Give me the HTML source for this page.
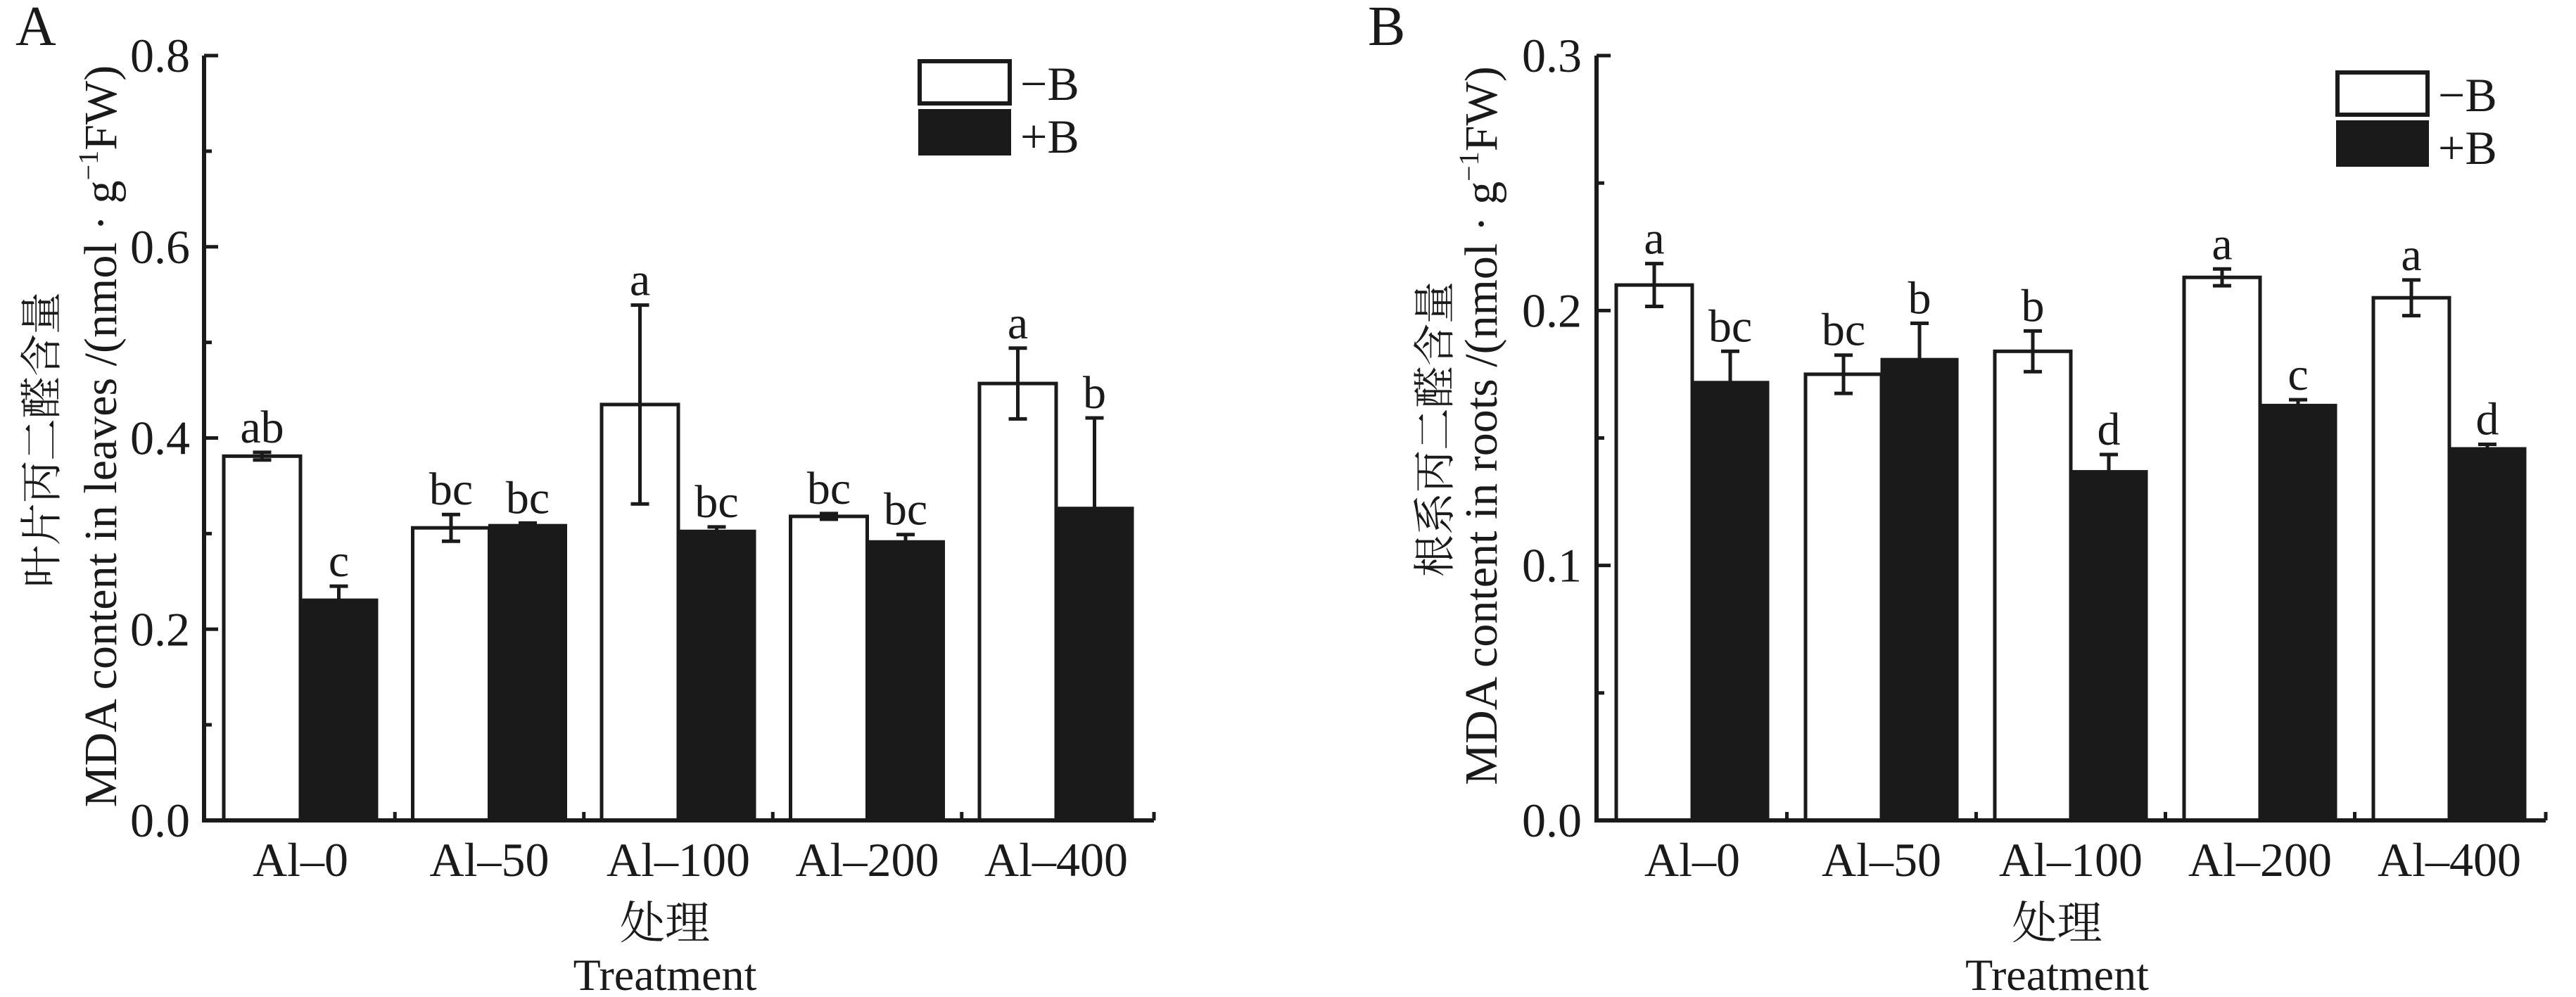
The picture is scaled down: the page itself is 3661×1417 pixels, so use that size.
<!DOCTYPE html>
<html><head><meta charset="utf-8">
<style>
html,body{margin:0;padding:0;background:#fff;}
svg{display:block;}
text{font-family:"Liberation Serif","Noto Serif CJK SC",serif;fill:#1a1a1a;}
</style></head>
<body>
<svg id="fig" width="3661" height="1417" viewBox="0 0 3661 1417" xmlns="http://www.w3.org/2000/svg"></svg>
<script>
const categories = ["Al–0","Al–50","Al–100","Al–200","Al–400"];
const leavesMinusB = [0.381,0.306,0.435,0.318,0.457];
const leavesMinusBErr = [0.004,0.014,0.104,0.003,0.037];
const leavesPlusB = [0.231,0.309,0.303,0.292,0.327];
const leavesPlusBErr = [0.014,0.002,0.004,0.007,0.094];
const leavesLettersMinus = ["ab","bc","a","bc","a"];
const leavesLettersPlus = ["c","bc","bc","bc","b"];
const leavesTicks = ["0.0","0.2","0.4","0.6","0.8"];
const rootsMinusB = [0.210,0.175,0.184,0.213,0.205];
const rootsMinusBErr = [0.0084,0.0075,0.008,0.0033,0.007];
const rootsPlusB = [0.172,0.181,0.137,0.163,0.146];
const rootsPlusBErr = [0.012,0.014,0.0065,0.002,0.0015];
const rootsLettersMinus = ["a","bc","b","a","a"];
const rootsLettersPlus = ["bc","b","d","c","d"];
const rootsTicks = ["0.0","0.1","0.2","0.3"];

const NS="http://www.w3.org/2000/svg";
const svg=document.getElementById('fig');
function mk(tag,attrs,parent){const e=document.createElementNS(NS,tag);for(const k in attrs)e.setAttribute(k,attrs[k]);(parent||svg).appendChild(e);return e;}
function txt(s,attrs,parent){const e=mk('text',attrs,parent);e.textContent=s;return e;}

function drawPanel(cfg){
  const g=mk('g',{});
  
  
  const x0=cfg.axisX, y0=1166, yTop=79, xEnd=cfg.axisEnd;
  const ymax=cfg.ymax;
  const yScale=v=>y0-(v/ymax)*(y0-yTop);
  const pitch=cfg.pitch, bw=cfg.bw;
  const groupLeft=i=>cfg.first+i*pitch;
  // bars
  categories.forEach((c,i)=>{
    const xl=groupLeft(i);
    const vw=cfg.minus[i], vb=cfg.plus[i];
    const r1=mk('rect',{x:xl,y:yScale(vw),width:bw,height:y0-yScale(vw),fill:'#fff',stroke:'#1a1a1a','stroke-width':5},g);
    
    
    const r2=mk('rect',{x:xl+bw,y:yScale(vb),width:bw,height:y0-yScale(vb),fill:'#1a1a1a',stroke:'#1a1a1a','stroke-width':3},g);
    
    
    [[xl+bw/2,vw,cfg.minusErr[i],cfg.lm[i],'#1a1a1a'],[xl+bw*1.5,vb,cfg.plusErr[i],cfg.lp[i],'#1a1a1a']].forEach(([cx,v,e,l,col],k)=>{
      const eb=mk('path',{d:`M${cx},${yScale(v-e)}V${yScale(v+e)}M${cx-13},${yScale(v+e)}H${cx+13}M${cx-13},${yScale(v-e)}H${cx+13}`,stroke:col,'stroke-width':5,fill:'none'},g);
      
      
      const t=txt(l,{x:cx,y:yScale(v+e)-14,'text-anchor':'middle','font-size':66},g);
      
      
    });
    const cl=txt(c,{x:xl+bw,y:1245,'text-anchor':'middle','font-size':68},g);
    
    
    if(i<categories.length-1){
      const tk=mk('line',{x1:xl+2*bw+(pitch-2*bw)/2,x2:xl+2*bw+(pitch-2*bw)/2,y1:y0,y2:y0-12,stroke:'#1a1a1a','stroke-width':5},g);
      
      
    }
  });
  const endTick=mk('line',{x1:xEnd,x2:xEnd,y1:y0,y2:y0-12,stroke:'#1a1a1a','stroke-width':5},g);
  
  
  // axes
  const ax=mk('path',{d:`M${x0},${yTop}V${y0}H${xEnd}`,stroke:'#1a1a1a','stroke-width':6,fill:'none'},g);
  
  
  const step=ymax/(cfg.ticks.length-1);
  cfg.ticks.forEach((t,i)=>{
    const v=i*step, y=yScale(v);
    const l=mk('line',{x1:x0,x2:x0+20,y1:y,y2:y,stroke:'#1a1a1a','stroke-width':5},g);
    
    
    const tl=txt(t,{x:cfg.tickLabelX,y:y+23,'text-anchor':'end','font-size':68},g);
    
    
    if(i<cfg.ticks.length-1){
      const ym=yScale(v+step/2);
      const m=mk('line',{x1:x0,x2:x0+11,y1:ym,y2:ym,stroke:'#1a1a1a','stroke-width':5},g);
      
      
    }
  });
  // titles
  const ycn=txt(cfg.cnTitle,{x:0,y:0,'text-anchor':'middle','dominant-baseline':'central','font-size':60,transform:`translate(${cfg.cnX},${cfg.cnY}) rotate(-90)`},g);
  
  
  const yen=mk('text',{x:0,y:0,'text-anchor':'middle','font-size':66,transform:`translate(${cfg.enX},${cfg.enY}) rotate(-90)`},g);
  
  
  yen.appendChild(document.createTextNode(cfg.enTitle+' /(nmol · g'));
  const sup=mk('tspan',{dy:-26,'font-size':40},yen);sup.textContent='−1';
  const rest=mk('tspan',{dy:26},yen);rest.textContent='FW)';
  const midX=(x0+xEnd)/2;
  const xcn=txt('处理',{x:midX-20,y:1334,'text-anchor':'middle','font-size':64},g);
  
  
  const xen=txt('Treatment',{x:midX-20,y:1407,'text-anchor':'middle','font-size':64},g);
  
  
  const pl=txt(cfg.letter,{x:cfg.letterX,y:64,'font-size':80},g);
  
  
  // legend
  const lg=mk('g',{},g);
  
  
  const L=cfg.legend;
  const b1=mk('rect',{x:L.x,y:L.y,width:128,height:60,fill:'#fff',stroke:'#1a1a1a','stroke-width':6},lg);
  
  
  const b2=mk('rect',{x:L.x-2,y:L.y+68,width:132,height:66,fill:'#1a1a1a'},lg);
  
  
  const t1=txt('−B',{x:L.x+143,y:L.y+55,'font-size':68},lg);
  
  
  const t2=txt('+B',{x:L.x+143,y:L.y+130,'font-size':68},lg);
  
  
}

drawPanel({name:'chart-a-leaves',letter:'A',letterX:22,axisX:290,axisEnd:1640,ymax:0.8,first:318,pitch:268.5,bw:109,
  minus:leavesMinusB,minusErr:leavesMinusBErr,plus:leavesPlusB,plusErr:leavesPlusBErr,lm:leavesLettersMinus,lp:leavesLettersPlus,
  ticks:leavesTicks,tickLabelX:270,cnTitle:'叶片丙二醛含量',cnX:60,cnY:625,enTitle:'MDA content in leaves',enX:165,enY:620,
  legend:{x:1307,y:87}});
drawPanel({name:'chart-b-roots',letter:'B',letterX:1944,axisX:2269,axisEnd:3618,ymax:0.3,first:2297,pitch:269,bw:108,
  minus:rootsMinusB,minusErr:rootsMinusBErr,plus:rootsPlusB,plusErr:rootsPlusBErr,lm:rootsLettersMinus,lp:rootsLettersPlus,
  ticks:rootsTicks,tickLabelX:2248,cnTitle:'根系丙二醛含量',cnX:2040,cnY:610,enTitle:'MDA content in roots',enX:2127,enY:605,
  legend:{x:3322,y:103}});
</script>
</body></html>
